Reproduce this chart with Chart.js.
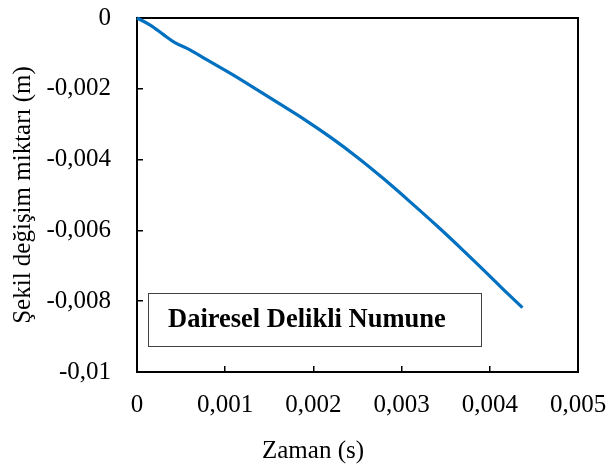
<!DOCTYPE html>
<html>
<head>
<meta charset="utf-8">
<script src="https://cdn.jsdelivr.net/npm/chart.js@4"></script>
<style>
  html, body { margin: 0; padding: 0; background: #fff; }
  #wrap { width: 609px; height: 469px; }
</style>
</head>
<body>
<div id="wrap"><canvas id="chart"></canvas></div>
<script>
// zaman (s) ve şekil değişim miktarı (m)
const zaman = [0, 0.00015, 0.0003, 0.00042, 0.0006, 0.0008, 0.00105, 0.0013, 0.0016, 0.0019,
               0.0022, 0.0025, 0.0028, 0.0031, 0.0034, 0.0037, 0.004, 0.0042, 0.00437];
const sekilDegisim = [0, -0.0002, -0.00047, -0.00068, -0.0009, -0.00119, -0.00155, -0.00193, -0.0024, -0.00287,
                      -0.00338, -0.00394, -0.00455, -0.0052, -0.00587, -0.00657, -0.00729, -0.00778, -0.00818];
const xTicks = [0, 0.001, 0.002, 0.003, 0.004, 0.005];
const yTicks = [0, -0.002, -0.004, -0.006, -0.008, -0.01];
const etiket = "Dairesel Delikli Numune";

const FONT = "'Liberation Serif', 'Times New Roman', serif";

function fmt(v) {
    const r = Math.round(v * 1e6) / 1e6;
    return String(r).replace('.', ',');
}

const cerceve = {
    id: 'cerceve',
    beforeDatasetsDraw(chart) {
        const { ctx, chartArea: a } = chart;
        ctx.save();
        ctx.strokeStyle = '#000';
        ctx.lineWidth = 2;
        ctx.strokeRect(a.left, a.top, a.right - a.left, a.bottom - a.top);
        ctx.restore();
    },
    afterDatasetsDraw(chart) {
        const { ctx, chartArea: a } = chart;
        const bx = a.left + 11, by = a.top + 275, bw = 333, bh = 53;
        ctx.save();
        ctx.fillStyle = '#fff';
        ctx.fillRect(bx, by, bw, bh);
        ctx.strokeStyle = '#404040';
        ctx.lineWidth = 1;
        ctx.strokeRect(bx + 0.5, by + 0.5, bw, bh);
        ctx.fillStyle = '#000';
        ctx.font = 'bold 26.5px ' + FONT;
        ctx.textBaseline = 'middle';
        ctx.fillText(etiket, bx + 20, by + bh / 2 + 1);
        ctx.restore();
    }
};

const points = zaman.map((x, i) => ({ x: x, y: sekilDegisim[i] }));

new Chart(document.getElementById('chart'), {
    type: 'scatter',
    data: {
        datasets: [{
            data: points,
            showLine: true,
            borderColor: '#0070C0',
            borderWidth: 3.2,
            pointRadius: 0,
            cubicInterpolationMode: 'monotone',
            clip: false
        }]
    },
    options: {
        responsive: true,
        maintainAspectRatio: false,
        animation: false,
        layout: { padding: { left: 17, top: 18, right: 0, bottom: 0 } },
        plugins: {
            legend: { display: false },
            tooltip: { enabled: false },
            title: {
                display: true,
                position: 'bottom',
                text: 'Zaman (s)',
                color: '#000',
                font: { family: FONT, size: 25, weight: 'normal' },
                padding: { top: 0, bottom: 3 }
            }
        },
        scales: {
            x: {
                type: 'linear',
                min: 0,
                max: 0.005,
                afterBuildTicks(scale) { scale.ticks = xTicks.map(v => ({ value: v })); },
                afterFit(scale) {
                    scale.height = 64;
                    scale.paddingLeft = 0;
                    scale.paddingRight = 31;
                    scale.paddingTop = 0;
                    scale.paddingBottom = 0;
                },
                ticks: {
                    color: '#000',
                    font: { family: FONT, size: 25 },
                    padding: 24,
                    maxRotation: 0,
                    callback: v => fmt(v)
                },
                grid: { display: true, drawOnChartArea: false, drawTicks: true, tickLength: -6, color: '#000', lineWidth: 1.5 },
                border: { display: true, color: '#000', width: 2 }
            },
            y: {
                type: 'linear',
                min: -0.01,
                max: 0,
                afterBuildTicks(scale) { scale.ticks = yTicks.map(v => ({ value: v })); },
                afterFit(scale) {
                    scale.width = 120;
                    scale.paddingTop = 0;
                    scale.paddingBottom = 0;
                    scale.paddingLeft = 0;
                    scale.paddingRight = 0;
                },
                title: {
                    display: true,
                    text: 'Şekil değişim miktarı (m)',
                    color: '#000',
                    font: { family: FONT, size: 25 },
                    padding: { top: -9, bottom: 0 }
                },
                ticks: {
                    color: '#000',
                    font: { family: FONT, size: 25 },
                    padding: 32,
                    callback: v => fmt(v)
                },
                grid: { display: true, drawOnChartArea: false, drawTicks: true, tickLength: -6, color: '#000', lineWidth: 1.5 },
                border: { display: true, color: '#000', width: 2 }
            }
        }
    },
    plugins: [cerceve]
});
</script>
</body>
</html>
